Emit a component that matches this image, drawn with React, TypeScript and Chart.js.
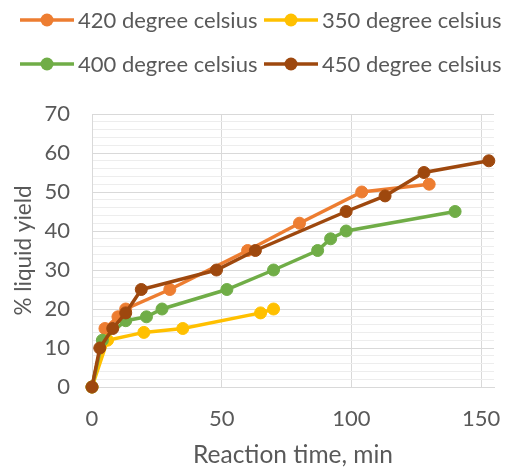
import React, { useEffect, useRef } from "react";
import { Chart, registerables } from "chart.js";

Chart.register(...registerables);

const seriesLabels = ["420 degree celsius", "350 degree celsius", "400 degree celsius", "450 degree celsius"];
const seriesColors = ["#ED7D31", "#FFC000", "#70AD47", "#9E480E"];

const time420 = [0, 5, 10, 13, 30, 60, 80, 104, 130];
const yield420 = [0, 15, 18, 20, 25, 35, 42, 50, 52];

const time350 = [0, 6, 20, 35, 65, 70];
const yield350 = [0, 12, 14, 15, 19, 20];

const time400 = [0, 4, 13, 21, 27, 52, 70, 87, 92, 98, 140];
const yield400 = [0, 12, 17, 18, 20, 25, 30, 35, 38, 40, 45];

const time450 = [0, 3, 8, 13, 19, 48, 63, 98, 113, 128, 153];
const yield450 = [0, 10, 15, 19, 25, 30, 35, 45, 49, 55, 58];

const xTicks = [0, 50, 100, 150];
const yMajorTicks = [0, 10, 20, 30, 40, 50, 60, 70];

const xTitle = "Reaction time, min";
const yTitle = "% liquid yield";

const FONT = "Lato";

const toPoints = (xs: number[], ys: number[]) => xs.map((x, i) => ({ x, y: ys[i] }));

const legendPlugin = {
  id: "customLegend",
  afterDraw(chart: any) {
    const ctx = chart.ctx;
    const cols = [20, 264];
    const rows = [20, 64];
    ctx.save();
    chart.data.datasets.forEach((ds: any, i: number) => {
      const x0 = cols[i % 2];
      const y0 = rows[Math.floor(i / 2)];
      ctx.strokeStyle = ds.borderColor;
      ctx.lineWidth = 3.5;
      ctx.beginPath();
      ctx.moveTo(x0, y0);
      ctx.lineTo(x0 + 54, y0);
      ctx.stroke();
      ctx.fillStyle = ds.borderColor;
      ctx.beginPath();
      ctx.arc(x0 + 27, y0, 6.5, 0, Math.PI * 2);
      ctx.fill();
      ctx.fillStyle = "#595959";
      ctx.font = `22px ${FONT}`;
      ctx.textBaseline = "middle";
      ctx.textAlign = "left";
      ctx.fillText(ds.label, x0 + 58, y0 + 1);
    });
    ctx.restore();
  },
};

export default function App() {
  const canvasRef = useRef<HTMLCanvasElement | null>(null);

  useEffect(() => {
    if (!canvasRef.current) return;
    const xsList = [time420, time350, time400, time450];
    const ysList = [yield420, yield350, yield400, yield450];
    const orders = [3, 2, 1, 0];
    const chart = new Chart(canvasRef.current, {
      type: "line",
      data: {
        datasets: seriesLabels.map((label, i) => ({
          label,
          data: toPoints(xsList[i], ysList[i]),
          borderColor: seriesColors[i],
          backgroundColor: seriesColors[i],
          borderWidth: 3.5,
          pointRadius: 6,
          pointBorderWidth: 1,
          pointHoverRadius: 6,
          tension: 0,
          order: orders[i],
          clip: false,
        })),
      },
      options: {
        responsive: false,
        animation: false,
        parsing: true,
        layout: { padding: { top: 114, right: 11, left: 0, bottom: 0 } },
        plugins: {
          legend: { display: false },
          tooltip: { enabled: false },
        },
        scales: {
          x: {
            type: "linear",
            min: 0,
            max: 155,
            afterBuildTicks: (scale: any) => {
              scale.ticks = xTicks.map((v) => ({ value: v }));
            },
            afterFit: (scale: any) => {
              scale.height = 83;
              scale.paddingRight = 0;
              scale.paddingLeft = 0;
            },
            grid: { color: "#d9d9d9", lineWidth: 1, drawTicks: false },
            border: { color: "#d9d9d9" },
            ticks: {
              color: "#595959",
              font: { family: FONT, size: 22 },
              padding: 19,
              maxRotation: 0,
              autoSkip: false,
            },
            title: {
              display: true,
              text: xTitle,
              color: "#595959",
              font: { family: FONT, size: 24.5 },
              padding: { top: 0, bottom: 0 },
            },
          },
          y: {
            type: "linear",
            min: 0,
            max: 70,
            afterFit: (scale: any) => {
              scale.width = 92;
            },
            grid: {
              color: (c: any) =>
                yMajorTicks.includes(c.tick?.value) ? "#d9d9d9" : "#ededed",
              lineWidth: 1,
              drawTicks: false,
            },
            border: { color: "#d9d9d9" },
            ticks: {
              stepSize: 2,
              autoSkip: false,
              color: "#595959",
              font: { family: FONT, size: 22 },
              padding: 22,
              callback: (v: any) => (yMajorTicks.includes(Number(v)) ? String(v) : ""),
            },
            title: {
              display: true,
              text: yTitle,
              color: "#595959",
              font: { family: FONT, size: 22.5 },
              padding: { top: 10, bottom: 0 },
            },
          },
        },
      },
      plugins: [legendPlugin],
    });
    return () => chart.destroy();
  }, []);

  return (
    <div style={{ position: "fixed", left: 0, top: 0, width: 505, height: 470, background: "#ffffff" }}>
      <canvas ref={canvasRef} width={505} height={470} style={{ width: 505, height: 470 }} />
    </div>
  );
}
